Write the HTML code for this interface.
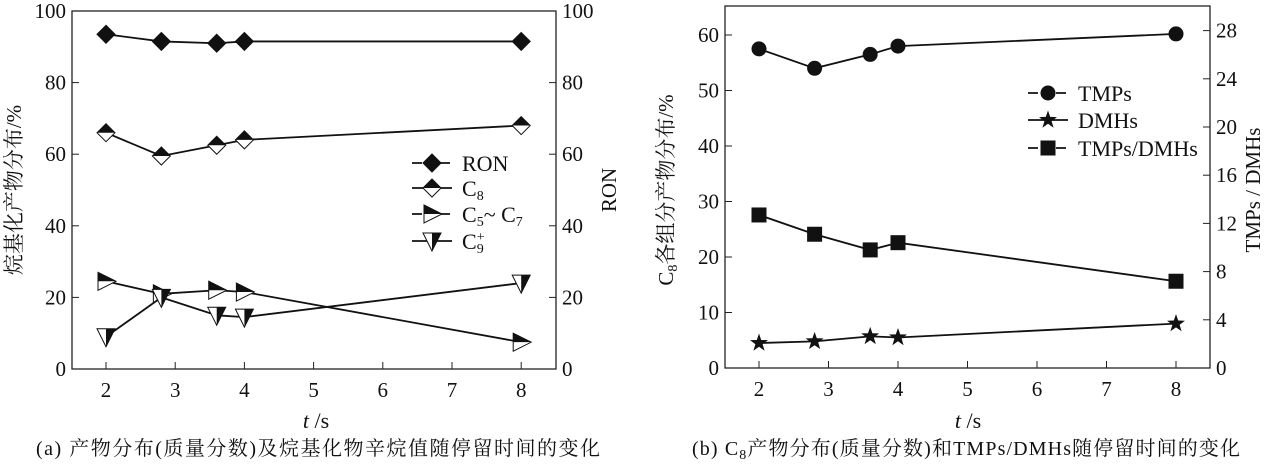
<!DOCTYPE html>
<html><head><meta charset="utf-8"><style>
body{margin:0;background:#fff;}
svg{display:block;font-family:"Liberation Serif","Noto Serif CJK SC",serif;}
</style></head><body>
<svg id="s" width="1269" height="466" viewBox="0 0 1269 466"></svg>
<script>
const times=[2,2.8,3.6,4,8];
const ronVals=[93.5,91.5,91,91.5,91.5];
const c8Vals=[66,59.5,62.5,64,68];
const c57Vals=[24.5,21,22,21.5,7.5];
const c9Vals=[9,20,15,14.5,24];
const tmpsVals=[57.5,54,56.5,58,60.2];
const dmhsVals=[4.5,4.8,5.7,5.5,8];
const ratioVals=[12.7,11.1,9.8,10.4,7.2];
const xTicks=[2,3,4,5,6,7,8];
const leftTicksA=[0,20,40,60,80,100];
const leftTicksB=[0,10,20,30,40,50,60];
const rightTicksB=[0,4,8,12,16,20,24,28];

const S=document.getElementById('s');
const NS='http://www.w3.org/2000/svg';
function mk(tag,at,parent){const e=document.createElementNS(NS,tag);for(const k in at)e.setAttribute(k,at[k]);(parent||S).appendChild(e);return e;}
function txt(x,y,str,size,anchor,parent){const t=mk('text',{x:x,y:y,'font-size':size,'text-anchor':anchor||'middle',fill:'#111'},parent);t.innerHTML=str;return t;}

const A={x0:72,x1:556,y0:369,y1:11};
const xA=t=>106+(t-2)*69.2;
const yA=v=>369-v*3.58;
const B={x0:725,x1:1210,y0:368,y1:6};
const xB=t=>759+(t-2)*69.5;
const yB=v=>368-v*5.55;
const yB2=v=>368-v*12.05;

function frame(F,name){const r=mk('rect',{x:F.x0,y:F.y1,width:F.x1-F.x0,height:F.y0-F.y1,fill:'none',stroke:'#222','stroke-width':1.3});
}
frame(A,'plot-frame-a');frame(B,'plot-frame-b');

function xaxis(F,xf,name){const g=mk('g',{});
 xTicks.forEach(t=>{mk('line',{x1:xf(t),x2:xf(t),y1:F.y0,y2:F.y0-7,stroke:'#222'},g);txt(xf(t),F.y0+28,t,21,'middle',g);});}
xaxis(A,xA,'x-axis-a');xaxis(B,xB,'x-axis-b');

const gla=mk('g',{});
leftTicksA.forEach(v=>{mk('line',{x1:A.x0,x2:A.x0+7,y1:yA(v),y2:yA(v),stroke:'#222'},gla);txt(A.x0-6,yA(v)+7,v,21,'end',gla);});
const gra=mk('g',{});
leftTicksA.forEach(v=>{mk('line',{x1:A.x1,x2:A.x1-7,y1:yA(v),y2:yA(v),stroke:'#222'},gra);txt(A.x1+6,yA(v)+7,v,21,'start',gra);});
const glb=mk('g',{});
leftTicksB.forEach(v=>{mk('line',{x1:B.x0,x2:B.x0+7,y1:yB(v),y2:yB(v),stroke:'#222'},glb);txt(B.x0-6,yB(v)+7,v,21,'end',glb);});
const grb=mk('g',{});
rightTicksB.forEach(v=>{mk('line',{x1:B.x1,x2:B.x1-7,y1:yB2(v),y2:yB2(v),stroke:'#222'},grb);txt(B.x1+6,yB2(v)+7,v,21,'start',grb);});

function marker(type,x,y,g){
 const s=9;
 if(type==='dfull'){mk('polygon',{points:`${x},${y-s} ${x+s},${y} ${x},${y+s} ${x-s},${y}`,fill:'#111',stroke:'#111'},g);}
 else if(type==='dhalf'){mk('polygon',{points:`${x},${y-s} ${x+s},${y} ${x},${y+s} ${x-s},${y}`,fill:'#fff',stroke:'#111'},g);
  mk('polygon',{points:`${x},${y-s} ${x+s},${y} ${x-s},${y}`,fill:'#111'},g);}
 else if(type==='tright'){mk('polygon',{points:`${x-8},${y-9} ${x+10},${y} ${x-8},${y+9}`,fill:'#fff',stroke:'#111'},g);
  mk('polygon',{points:`${x-8},${y-9} ${x+10},${y} ${x-8},${y}`,fill:'#111'},g);}
 else if(type==='tdown'){mk('polygon',{points:`${x-9},${y-8} ${x+9},${y-8} ${x},${y+10}`,fill:'#fff',stroke:'#111'},g);
  mk('polygon',{points:`${x},${y-8} ${x+9},${y-8} ${x},${y+10}`,fill:'#111'},g);}
 else if(type==='circle'){mk('circle',{cx:x,cy:y,r:7.5,fill:'#111'},g);}
 else if(type==='square'){mk('rect',{x:x-7.5,y:y-7.5,width:15,height:15,fill:'#111'},g);}
 else if(type==='star'){let p=[];for(let i=0;i<10;i++){const r=i%2?3.8:9.5;const a=-Math.PI/2+i*Math.PI/5;p.push((x+r*Math.cos(a)).toFixed(1)+','+(y+r*Math.sin(a)).toFixed(1));}
  mk('polygon',{points:p.join(' '),fill:'#111'},g);}
}
function series(name,vals,xf,yf,type,dash){
 const g=mk('g',{});
 
 
 const pts=times.map((t,i)=>xf(t)+','+yf(vals[i])).join(' ');
 mk('polyline',{points:pts,fill:'none',stroke:'#111','stroke-width':1.8,'stroke-dasharray':dash||'none'},g);
 times.forEach((t,i)=>marker(type,xf(t),yf(vals[i]),g));
}
series('series-ron',ronVals,xA,yA,'dfull');
series('series-c8',c8Vals,xA,yA,'dhalf');
series('series-c5-c7',c57Vals,xA,yA,'tright');
series('series-c9plus',c9Vals,xA,yA,'tdown');
series('series-tmps',tmpsVals,xB,yB,'circle');
series('series-dmhs',dmhsVals,xB,yB,'star');
series('series-tmps-dmhs',ratioVals,xB,yB2,'square');

function legend(name,x,y,type,label,dash){
 const g=mk('g',{});
 
 
 mk('line',{x1:x,x2:x+40,y1:y,y2:y,stroke:'#111','stroke-width':1.8,'stroke-dasharray':dash||'none'},g);
 marker(type,x+20,y,g);
 txt(x+50,y+8,label,22,'start',g);
}
const SUB=n=>`<tspan font-size="14" baseline-shift="-30%">${n}</tspan>`;
legend('legend-ron',412,163,'dfull','RON','10,4');
legend('legend-c8',412,188,'dhalf','C'+SUB(8));
legend('legend-c5-c7',412,214,'tright','C'+SUB(5)+'~ C'+SUB(7),'10,4');
legend('legend-c9plus',412,241,'tdown','C'+SUB(9)+'<tspan font-size="14" dx="-7" baseline-shift="60%">+</tspan>');
legend('legend-tmps',1028,93,'circle','TMPs','10,4');
legend('legend-dmhs',1028,120,'star','DMHs');
legend('legend-ratio',1028,148,'square','TMPs/DMHs','10,4');

let t;
t=txt(0,0,'烷基化产物分布/%',21,'middle');t.setAttribute('transform','translate(21,190) rotate(-90)');

t=txt(0,0,'RON',21,'middle');t.setAttribute('transform','translate(616,190) rotate(-90)');

t=txt(0,0,'C'+SUB(8)+'各组分产物分布/%',21,'middle');t.setAttribute('transform','translate(673,190) rotate(-90)');

t=txt(0,0,'TMPs / DMHs',21,'middle');t.setAttribute('transform','translate(1260,190) rotate(-90)');

t=txt(316,428,'<tspan font-style="italic">t</tspan> /s',22,'middle');

t=txt(968,428,'<tspan font-style="italic">t</tspan> /s',22,'middle');

t=txt(318,455,'(a) 产物分布(质量分数)及烷基化物辛烷值随停留时间的变化',20,'middle');

t.setAttribute('textLength','564');
t=txt(966,455,'(b) C'+SUB(8)+'产物分布(质量分数)和TMPs/DMHs随停留时间的变化',20,'middle');

t.setAttribute('textLength','548');
</script>
</body></html>
